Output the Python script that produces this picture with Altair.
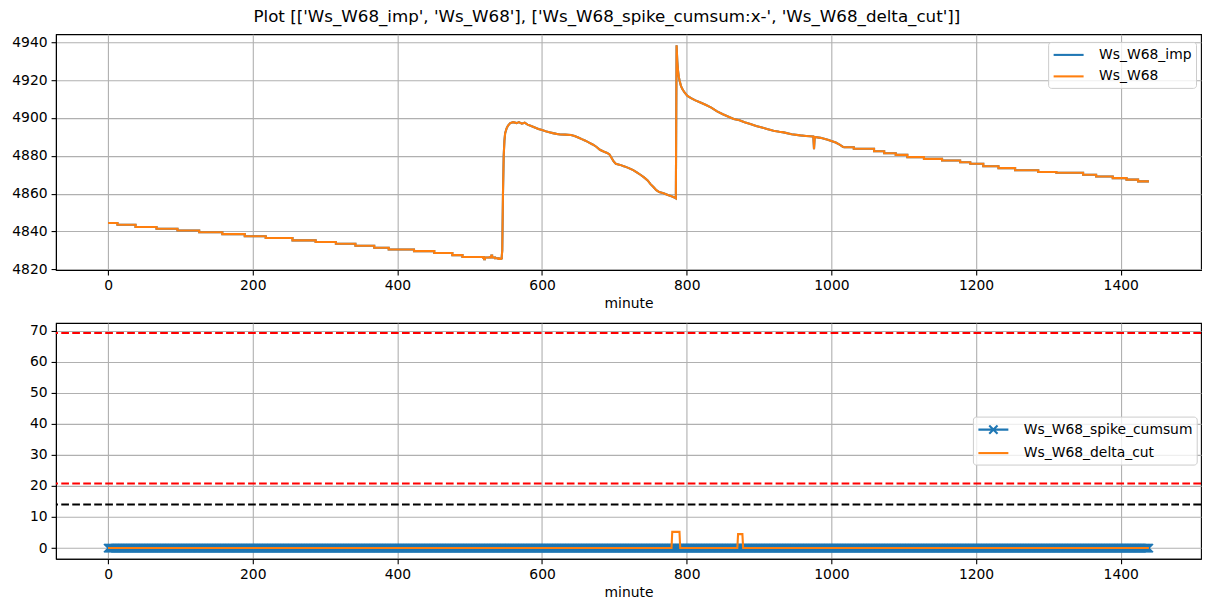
import altair as alt
import pandas as pd

# ---------------- data ----------------
# Ws_W68 (and Ws_W68_imp, identical)
# flat stepped part before the jump: (minute, value) step-change points
ws_a_minutes = [0, 13, 38, 67, 96, 126, 158, 189, 218, 255, 287, 315, 342, 368, 388, 423, 451, 476, 490,
                519, 520, 521, 528, 530, 531, 535, 540, 544]
ws_a_values = [4844.5, 4843.5, 4842.4, 4841.4, 4840.5, 4839.6, 4838.6, 4837.5, 4836.5, 4835.3, 4834.4,
               4833.5, 4832.4, 4831.4, 4830.5, 4829.6, 4828.6, 4827.5, 4826.5,
               4826.0, 4825.3, 4826.2, 4826.5, 4827.2, 4826.2, 4825.8, 4825.5, 4825.3]
# curved middle part: (minute, value) samples
ws_b_minutes = [544, 545, 546, 547, 548, 549, 551, 553, 556, 560, 565, 568, 572, 576, 580, 585, 590, 595,
                600, 605, 610, 615, 620, 625, 632, 640, 645, 650, 655, 660, 665, 670, 675, 680, 685, 690,
                693, 696, 699, 702, 708, 714, 720, 726, 731, 736, 741, 746, 750, 754, 758, 762, 768, 774,
                779, 783, 785, 786, 787, 788, 789, 790, 792, 794, 797, 801, 806, 812, 819, 826, 834, 842,
                850, 857, 865, 873, 880, 888, 896, 904, 911, 920, 928, 934, 945, 957, 965, 975, 976, 977,
                985, 995, 1000, 1006, 1012, 1017]
ws_b_values = [4825.3, 4830.0, 4860.0, 4880.0, 4888.0, 4892.0, 4894.5, 4896.0, 4897.3, 4897.8, 4897.3,
               4897.8, 4897.0, 4897.5, 4896.5, 4895.8, 4895.0, 4894.2, 4893.6, 4893.0, 4892.5, 4892.0,
               4891.6, 4891.3, 4891.2, 4891.0, 4890.5, 4889.7, 4888.8, 4888.0, 4887.0, 4886.0, 4884.8,
               4883.2, 4882.3, 4881.5, 4880.8, 4879.0, 4877.0, 4875.8, 4875.2, 4874.4, 4873.5, 4872.4,
               4871.3, 4870.0, 4868.6, 4867.0, 4865.0, 4863.5, 4861.8, 4860.8, 4860.2, 4859.3, 4858.6,
               4858.0, 4857.5, 4938.5, 4930.0, 4925.0, 4922.0, 4920.0, 4917.0, 4915.3, 4913.5, 4911.7,
               4910.5, 4909.3, 4908.2, 4907.0, 4905.5, 4903.5, 4902.0, 4900.8, 4899.5, 4898.8, 4897.8,
               4896.8, 4895.8, 4895.0, 4894.2, 4893.3, 4892.7, 4892.4, 4891.4, 4890.8, 4890.5, 4890.2,
               4883.5, 4890.0, 4889.5, 4888.5, 4887.8, 4887.0, 4885.8, 4884.5]
# flat stepped tail: (minute, value) step-change points
ws_c_minutes = [1017, 1031, 1059, 1073, 1089, 1105, 1128, 1153, 1178, 1192, 1210, 1231, 1254, 1286, 1311,
                1348, 1366, 1389, 1408, 1424, 1439]
ws_c_values = [4884.5, 4883.7, 4882.4, 4881.4, 4880.5, 4879.3, 4878.4, 4877.5, 4876.6, 4875.8, 4874.5,
               4873.5, 4872.4, 4871.4, 4871.0, 4870.0, 4869.1, 4868.2, 4867.4, 4866.5, 4866.5]

# Ws_W68_spike_cumsum: one value per minute (all zero)
cumsum_minutes = list(range(1440))
cumsum_values = [0] * 1440

# Ws_W68_delta_cut: change points (minute, value)
delta_minutes = [0, 779, 780, 790, 791, 870, 871, 877, 878, 1439]
delta_values = [0, 0, 5.2, 5.2, 0, 0, 4.5, 4.5, 0, 0]

# threshold lines
threshold_values = [69.2, 20.8, 14.0]
threshold_colors = ["red", "red", "black"]

x_ticks = [0, 200, 400, 600, 800, 1000, 1200, 1400]
top_y_ticks = [4820, 4840, 4860, 4880, 4900, 4920, 4940]
bot_y_ticks = [0, 10, 20, 30, 40, 50, 60, 70]

TITLE = "Plot [['Ws_W68_imp', 'Ws_W68'], ['Ws_W68_spike_cumsum:x-', 'Ws_W68_delta_cut']]"
BLUE = "#1f77b4"
ORANGE = "#ff7f0e"
FONT = "DejaVu Sans"
LW = 2.08

# ---------------- frames ----------------
def frame(m, v, name, field="series"):
    return pd.DataFrame({"minute": m, "value": v, field: name})

W, H = 1146, 236

x_scale = alt.Scale(domain=[-72, 1511], nice=False, zero=False)
x_axis = alt.Axis(values=x_ticks, title="minute", format="d")
x_enc = alt.X("minute:Q", scale=x_scale, axis=x_axis)

LINE_SYM = "M-1,0L3,0"
XLEG_SYM = "M-1,0L3,0M0.447,-0.553L1.553,0.553M0.447,0.553L1.553,-0.553"

legend_common = dict(
    title=None, orient="none", symbolSize=225, symbolStrokeWidth=LW,
    labelFontSize=13.9, labelFont=FONT, labelColor="black", labelLimit=400,
    fillColor="rgba(255,255,255,0.8)",
    strokeColor="#cccccc", padding=4, cornerRadius=3, labelOffset=29, rowPadding=5.5,
)

# ---------------- top panel ----------------
top_y = alt.Y("value:Q", scale=alt.Scale(domain=[4819.6, 4944.3], nice=False, zero=False),
              axis=alt.Axis(values=top_y_ticks, title=None, format="d"))
top_color = alt.Color("series:N",
                      scale=alt.Scale(domain=["Ws_W68_imp", "Ws_W68"], range=[BLUE, ORANGE]),
                      legend=alt.Legend(legendX=993, legendY=7.7, symbolType=LINE_SYM, **legend_common))

top_layers = []
for name in ["Ws_W68_imp", "Ws_W68"]:
    top_layers.append(alt.Chart(frame(ws_a_minutes, ws_a_values, name)).mark_line(
        interpolate="step-after", strokeWidth=LW).encode(x=x_enc, y=top_y, color=top_color))
    top_layers.append(alt.Chart(frame(ws_b_minutes, ws_b_values, name)).mark_line(
        strokeWidth=LW).encode(x=x_enc, y=top_y, color=top_color))
    top_layers.append(alt.Chart(frame(ws_c_minutes, ws_c_values, name)).mark_line(
        interpolate="step-after", strokeWidth=LW).encode(x=x_enc, y=top_y, color=top_color))
top = alt.layer(*top_layers).properties(width=W, height=H)

# ---------------- bottom panel ----------------
bot_y = alt.Y("value:Q", scale=alt.Scale(domain=[-3.45, 72.45], nice=False, zero=False),
              axis=alt.Axis(values=bot_y_ticks, title=None, format="d"))
bot_color = alt.Color(
    "series2:N",
    scale=alt.Scale(domain=["Ws_W68_spike_cumsum", "Ws_W68_delta_cut"], range=[BLUE, ORANGE]),
    legend=alt.Legend(
        legendX=917.7, legendY=93.7,
        symbolType={"expr": "datum.label == 'Ws_W68_spike_cumsum' ? '" + XLEG_SYM + "' : '" + LINE_SYM + "'"},
        **legend_common),
)

cum_df = frame(cumsum_minutes, cumsum_values, "Ws_W68_spike_cumsum", "series2")
delta_df = frame(delta_minutes, delta_values, "Ws_W68_delta_cut", "series2")
rule_df = pd.DataFrame({"value": threshold_values, "c": threshold_colors})

cum_line = alt.Chart(cum_df).mark_line(strokeWidth=LW).encode(x=x_enc, y=bot_y, color=bot_color)
cum_pts = alt.Chart(cum_df).mark_point(
    shape="M-1,-1L1,1M-1,1L1,-1", size=69, strokeWidth=1.4, filled=False, opacity=1,
    color=BLUE).encode(x=x_enc, y=bot_y)
delta_line = alt.Chart(delta_df).mark_line(strokeWidth=LW).encode(x=x_enc, y=bot_y, color=bot_color)
rules = alt.Chart(rule_df).mark_rule(strokeDash=[7.7, 3.3], strokeWidth=LW).encode(
    y=bot_y, color=alt.Color("c:N", scale=None))
bottom = alt.layer(cum_line, cum_pts, delta_line, rules).properties(width=W, height=H)

chart = alt.vconcat(top, bottom, spacing=10).resolve_scale(
    color="independent"
).resolve_legend(
    color="independent"
).properties(
    title=alt.TitleParams(TITLE, fontSize=16.7, font=FONT, fontWeight="normal", color="black",
                          anchor="middle", offset=8),
    padding={"left": 3, "top": 0, "right": 0, "bottom": 0},
).configure_view(
    stroke="black", strokeWidth=1.1
).configure_axis(
    labelFont=FONT, labelFontSize=13.9, labelColor="black", labelPadding=4,
    titleFont=FONT, titleFontSize=13.9, titleColor="black", titleFontWeight="normal", titlePadding=4,
    domainColor="black", domainWidth=1.1, tickColor="black", tickWidth=1.1, tickSize=4.9,
    gridColor="#b0b0b0", gridWidth=1.1, grid=True,
)

chart.save("out.html", embed_options={"renderer": "svg", "actions": False})
